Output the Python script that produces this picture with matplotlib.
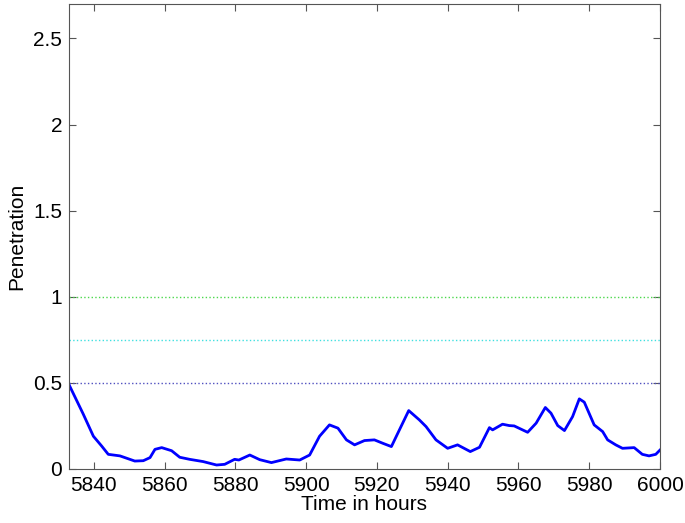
import matplotlib.pyplot as plt
import numpy as np

# penetration curve
hours = [5833, 5837, 5839.9, 5842.2, 5844.1, 5847.4, 5851.6, 5854, 5855.9, 5857.3,
         5859.2, 5862, 5864.3, 5867.1, 5870.9, 5874.7, 5877, 5879.8, 5881, 5884.1,
         5886.9, 5890.2, 5894.4, 5898.2, 5901, 5903.8, 5906.6, 5909, 5911.4, 5913.7,
         5916.5, 5919.3, 5921.7, 5924.1, 5925.9, 5929, 5932, 5933.9, 5936.7, 5940,
         5942.8, 5946.4, 5949, 5951.8, 5952.7, 5955.5, 5957.4, 5958.8, 5962.6, 5965,
         5967.6, 5969.2, 5971.1, 5973, 5975.3, 5977.2, 5978.6, 5981.4, 5983.8, 5985.2,
         5987.5, 5989.4, 5992.7, 5995, 5996.9, 5998.8, 6000]
penetration = [0.49, 0.32, 0.19, 0.134, 0.085, 0.076, 0.046, 0.048, 0.066, 0.114,
               0.124, 0.106, 0.068, 0.056, 0.043, 0.023, 0.027, 0.056, 0.052, 0.081,
               0.054, 0.037, 0.058, 0.052, 0.081, 0.19, 0.256, 0.237, 0.169, 0.14,
               0.165, 0.169, 0.149, 0.13, 0.207, 0.339, 0.285, 0.246, 0.169, 0.12,
               0.14, 0.101, 0.126, 0.24, 0.227, 0.26, 0.252, 0.25, 0.213, 0.266,
               0.357, 0.324, 0.252, 0.223, 0.304, 0.407, 0.388, 0.256, 0.217, 0.169,
               0.14, 0.12, 0.124, 0.085, 0.076, 0.085, 0.11]

# threshold levels
levels = [1.0, 0.75, 0.5]
level_colors = ['#4cd84c', '#3fe0e0', '#5050c0']

plt.rcParams['font.family'] = ['Liberation Sans', 'DejaVu Sans']

fig = plt.figure(figsize=(6.85, 5.23), dpi=100)
ax = fig.add_axes([0.1007, 0.1033, 0.8628, 0.8891])

for lv, c in zip(levels, level_colors):
    ax.axhline(lv, color=c, linestyle=':', linewidth=1.0)
ax.plot(hours, penetration, color='#0000ff', linewidth=2.0)

ax.set_xlim(5833, 6000)
ax.set_ylim(0, 2.7)
ax.set_xticks(np.arange(5840, 6001, 20))
ax.set_yticks([0, 0.5, 1, 1.5, 2, 2.5])
ax.set_yticklabels(['0', '0.5', '1', '1.5', '2', '2.5'])
ax.tick_params(direction='in', top=True, right=True, labelsize=15, length=5,
               color='#555555', pad=5)
for s in ax.spines.values():
    s.set_color('#555555')
ax.set_xlabel('Time in hours', fontsize=15, labelpad=0)
ax.set_ylabel('Penetration', fontsize=15, labelpad=5)

fig.savefig('out.png', dpi=100)
